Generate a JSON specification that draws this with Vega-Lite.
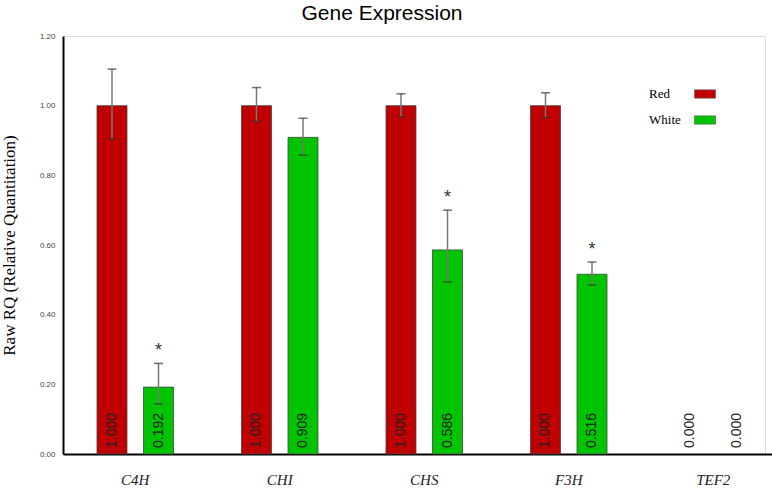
{
  "$schema": "https://vega.github.io/schema/vega-lite/v6.json",
  "autosize": {"type": "none"},
  "padding": {"left": 63, "top": 36, "right": 7, "bottom": 36},
  "width": 702,
  "height": 418,
  "background": "white",
  "title": {
    "text": "Gene Expression",
    "font": "Liberation Sans",
    "fontSize": 21,
    "fontWeight": "normal",
    "color": "#000",
    "baseline": "alphabetic",
    "offset": -9,
    "dx": -32
  },
  "data": {
    "values": [
      {"gene": "C4H", "sample": "Red", "value": 1.0, "lo": 0.905, "hi": 1.105, "label": "1.000", "sig": ""},
      {"gene": "C4H", "sample": "White", "value": 0.192, "lo": 0.144, "hi": 0.26, "label": "0.192", "sig": "*"},
      {"gene": "CHI", "sample": "Red", "value": 1.0, "lo": 0.955, "hi": 1.052, "label": "1.000", "sig": ""},
      {"gene": "CHI", "sample": "White", "value": 0.909, "lo": 0.858, "hi": 0.964, "label": "0.909", "sig": ""},
      {"gene": "CHS", "sample": "Red", "value": 1.0, "lo": 0.968, "hi": 1.034, "label": "1.000", "sig": ""},
      {"gene": "CHS", "sample": "White", "value": 0.586, "lo": 0.494, "hi": 0.7, "label": "0.586", "sig": "*"},
      {"gene": "F3H", "sample": "Red", "value": 1.0, "lo": 0.966, "hi": 1.037, "label": "1.000", "sig": ""},
      {"gene": "F3H", "sample": "White", "value": 0.516, "lo": 0.485, "hi": 0.551, "label": "0.516", "sig": "*"},
      {"gene": "TEF2", "sample": "Red", "value": 0.0, "lo": null, "hi": null, "label": "0.000", "sig": ""},
      {"gene": "TEF2", "sample": "White", "value": 0.0, "lo": null, "hi": null, "label": "0.000", "sig": ""}
    ]
  },
  "encoding": {
    "x": {
      "field": "gene",
      "type": "nominal",
      "sort": null,
      "scale": {"range": [0, 722.5], "paddingInner": 0, "paddingOuter": 0},
      "axis": {
        "title": null,
        "labelAngle": 0,
        "labelFont": "Liberation Serif",
        "labelFontStyle": "italic",
        "labelFontSize": 15,
        "labelColor": "#222",
        "labelPadding": 18,
        "ticks": false,
        "domainColor": "#000",
        "domainWidth": 2
      }
    },
    "xOffset": {
      "field": "sample",
      "type": "nominal",
      "sort": ["Red", "White"],
      "scale": {"paddingInner": 0.355, "paddingOuter": 0.731}
    }
  },
  "layer": [
    {
      "mark": {"type": "bar", "stroke": "#444", "strokeWidth": 0.8},
      "transform": [{"filter": "datum.value > 0"}],
      "encoding": {
        "y": {
          "field": "value",
          "type": "quantitative",
          "scale": {"domain": [0, 1.2], "nice": false},
          "axis": {
            "title": "Raw RQ (Relative Quantitation)",
            "titleFont": "Liberation Serif",
            "titleFontSize": 17,
            "titleFontWeight": "normal",
            "titleColor": "#000",
            "titlePadding": 21,
            "values": [0, 0.2, 0.4, 0.6, 0.8, 1.0, 1.2],
            "format": ".2f",
            "labelFont": "Liberation Sans",
            "labelFontSize": 8,
            "labelColor": "#444",
            "labelPadding": 8,
            "ticks": false,
            "grid": false,
            "domainColor": "#000",
            "domainWidth": 2
          }
        },
        "color": {
          "field": "sample",
          "type": "nominal",
          "scale": {"domain": ["Red", "White"], "range": ["#C00000", "#00C400"]},
          "legend": {
            "title": null,
            "orient": "none",
            "legendX": 631,
            "legendY": 47,
            "padding": 0,
            "symbolType": "M-1,-0.4H1V0.4H-1Z",
            "symbolSize": 441,
            "symbolStrokeColor": "#555",
            "symbolStrokeWidth": 0.6,
            "symbolOpacity": 1,
            "labelFont": "Liberation Serif",
            "labelFontSize": 13,
            "labelColor": "#000",
            "labelAlign": "left",
            "labelOffset": -67,
            "rowPadding": 8
          }
        }
      }
    },
    {
      "mark": {"type": "rule", "color": "#777", "strokeWidth": 1.5},
      "transform": [{"filter": "datum.hi != null"}],
      "encoding": {
        "y": {"field": "lo", "type": "quantitative"},
        "y2": {"field": "hi"}
      }
    },
    {
      "mark": {"type": "tick", "orient": "horizontal", "size": 9, "thickness": 1.5, "color": "#333"},
      "transform": [{"filter": "datum.hi != null"}],
      "encoding": {
        "y": {"field": "hi", "type": "quantitative"}
      }
    },
    {
      "mark": {"type": "tick", "orient": "horizontal", "size": 9, "thickness": 1.5, "color": "#333"},
      "transform": [{"filter": "datum.hi != null"}],
      "encoding": {
        "y": {"field": "lo", "type": "quantitative"}
      }
    },
    {
      "mark": {"type": "text", "angle": 270, "align": "left", "baseline": "middle", "dx": 6, "font": "Liberation Sans", "fontSize": 14, "color": "#222"},
      "encoding": {
        "y": {"datum": 0, "type": "quantitative"},
        "text": {"field": "label", "type": "nominal"}
      }
    },
    {
      "mark": {"type": "text", "align": "center", "baseline": "alphabetic", "dy": -7, "font": "Liberation Sans", "fontSize": 18, "color": "#333"},
      "transform": [{"filter": "datum.sig != ''"}],
      "encoding": {
        "y": {"field": "hi", "type": "quantitative"},
        "text": {"field": "sig", "type": "nominal"}
      }
    }
  ]
}
